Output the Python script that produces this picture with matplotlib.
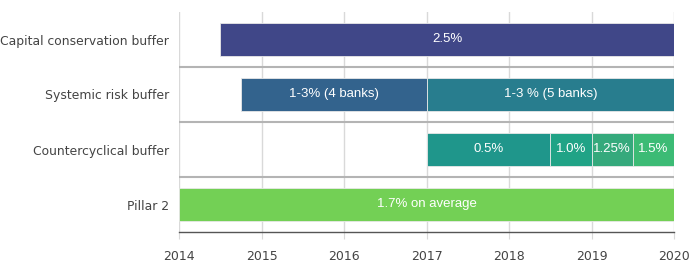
import matplotlib
matplotlib.use('Agg')
import matplotlib.pyplot as plt

# Rows, top to bottom
categories = ['Capital conservation buffer', 'Systemic risk buffer',
              'Countercyclical buffer', 'Pillar 2']

# Segments: (row, start year, end year, label, colour)
seg_rows = [0, 1, 1, 2, 2, 2, 2, 3]
seg_start = [2014.5, 2014.75, 2017, 2017, 2018.5, 2019, 2019.5, 2014]
seg_end = [2020, 2017, 2020, 2018.5, 2019, 2019.5, 2020, 2020]
seg_labels = ['2.5%', '1-3% (4 banks)', '1-3 % (5 banks)', '0.5%', '1.0%',
              '1.25%', '1.5%', '1.7% on average']
seg_colors = ['#404788', '#33638d', '#287d8e', '#1f968b', '#20a386',
              '#35a97c', '#3cbb75', '#73d055']

years = [2014, 2015, 2016, 2017, 2018, 2019, 2020]

fig = plt.figure(figsize=(6.9, 2.64), dpi=100)
ax = fig.add_axes([179 / 690, 1 - 232 / 264, 495 / 690, 220 / 264])

for r, s, e, lab, c in zip(seg_rows, seg_start, seg_end, seg_labels, seg_colors):
    ax.barh(r, e - s, left=s, height=0.6, color=c, edgecolor='#e8e8e8',
            linewidth=0.6, zorder=3)
    ax.text((s + e) / 2, r, lab, ha='center', va='center', color='white',
            fontsize=9.5, family='Liberation Sans', zorder=4)

ax.set_xlim(2014, 2020)
ax.set_ylim(3.5, -0.5)
ax.set_xticks(years)
ax.set_xticklabels([str(y) for y in years])
ax.set_yticks(range(len(categories)))
ax.set_yticklabels(categories)

# vertical grid lines and row separators
for y in years:
    ax.axvline(y, color='#d9d9d9', linewidth=1, zorder=1)
for b in [0.5, 1.5, 2.5]:
    ax.axhline(b, color='#b4b4b4', linewidth=1.5, zorder=2)

for sp in ['top', 'right', 'left']:
    ax.spines[sp].set_visible(False)
ax.spines['bottom'].set_color('#555555')
ax.spines['bottom'].set_linewidth(1)

ax.tick_params(axis='y', length=0, pad=7, labelsize=8.9, labelcolor='#444444')
ax.tick_params(axis='x', length=5, color='#d9d9d9', pad=8, labelsize=9,
               labelcolor='#444444')

fig.savefig('out.png', dpi=100)
